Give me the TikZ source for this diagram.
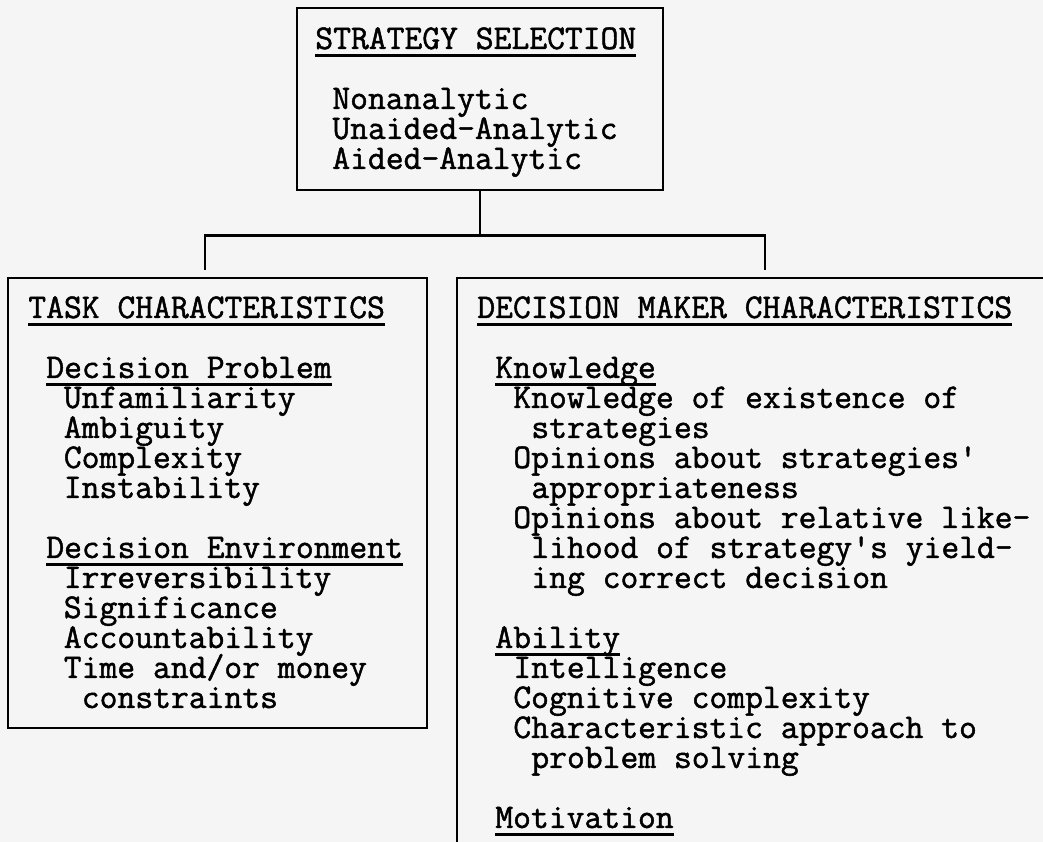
\documentclass[tikz,border=0pt]{standalone}
\usepackage{fontspec}
\setmonofont{lmmono12-regular.otf}[FakeBold=1.4]
\newcommand{\ulin}[1]{\setbox0\hbox{#1}\rlap{\rule[-4.3pt]{\wd0}{1.4pt}}\box0}
\tikzset{
  box/.style={draw, line width=1.6pt, inner sep=0pt},
  link/.style={line width=1.6pt},
  txt/.style={anchor=base west, inner sep=0pt, text height=0.4cm, text depth=0.1cm}
}
\begin{document}
\begin{tikzpicture}[font=\ttfamily\fontsize{19.7}{20}\selectfont]
  \path[fill=black!4, use as bounding box] (0,0) rectangle (20.86,16.84);
  \clip (0,0) rectangle (20.86,16.84);
  \node[box, minimum width=7.32cm, minimum height=3.64cm] (sel) at (9.6,14.86) {};
  \node[box, minimum width=8.38cm, minimum height=9cm] (task) at (4.35,6.78) {};
  \node[box, minimum width=12.36cm, minimum height=11.88cm] (dm) at (15.32,5.34) {};
  \coordinate (lft) at (4.1,11.44);
  \coordinate (rgt) at (15.3,11.44);
  \draw[link] (sel.south) -- ++(0,-0.88) coordinate (fork);
  \draw[link] (lft) |- (fork) -| (rgt);
  \node[txt] (selhd) at (6.3,15.86) {\ulin{STRATEGY SELECTION}};
  \foreach \t [count=\i] in {Nonanalytic,Unaided-Analytic,Aided-Analytic}
    \node[txt] (sel\i) at (6.64,15.86-0.6-0.6*\i) {\t};
  \node[txt] (taskhd) at (0.56,10.48) {\ulin{TASK CHARACTERISTICS}};
  \node[txt] (dp) at (0.92,9.28) {\ulin{Decision Problem}};
  \foreach \t [count=\i] in {Unfamiliarity,Ambiguity,Complexity,Instability}
    \node[txt] (dp\i) at (1.27,9.28-0.6*\i) {\t};
  \node[txt] (de) at (0.92,5.68) {\ulin{Decision Environment}};
  \foreach \t [count=\i] in {Irreversibility,Significance,Accountability,{Time and/or money}}
    \node[txt] (de\i) at (1.27,5.68-0.6*\i) {\t};
  \node[txt] (de5) at (1.63,2.68) {constraints};
  \node[txt] (dmhd) at (9.54,10.48) {\ulin{DECISION MAKER CHARACTERISTICS}};
  \node[txt] (kn) at (9.9,9.28) {\ulin{Knowledge}};
  \foreach \t/\dx [count=\i] in {{Knowledge of existence of}/0,strategies/1,{Opinions about strategies'}/0,appropriateness/1,{Opinions about relative like-}/0,{lihood of strategy's yield-}/1,{ing correct decision}/1}
    \node[txt] (kn\i) at (10.26+0.36*\dx,9.28-0.6*\i) {\t};
  \node[txt] (ab) at (9.9,3.88) {\ulin{Ability}};
  \foreach \t/\dx [count=\i] in {Intelligence/0,{Cognitive complexity}/0,{Characteristic approach to}/0,{problem solving}/1}
    \node[txt] (ab\i) at (10.26+0.36*\dx,3.88-0.6*\i) {\t};
  \node[txt] (mo) at (9.9,0.28) {\ulin{Motivation}};
\end{tikzpicture}
\end{document}
